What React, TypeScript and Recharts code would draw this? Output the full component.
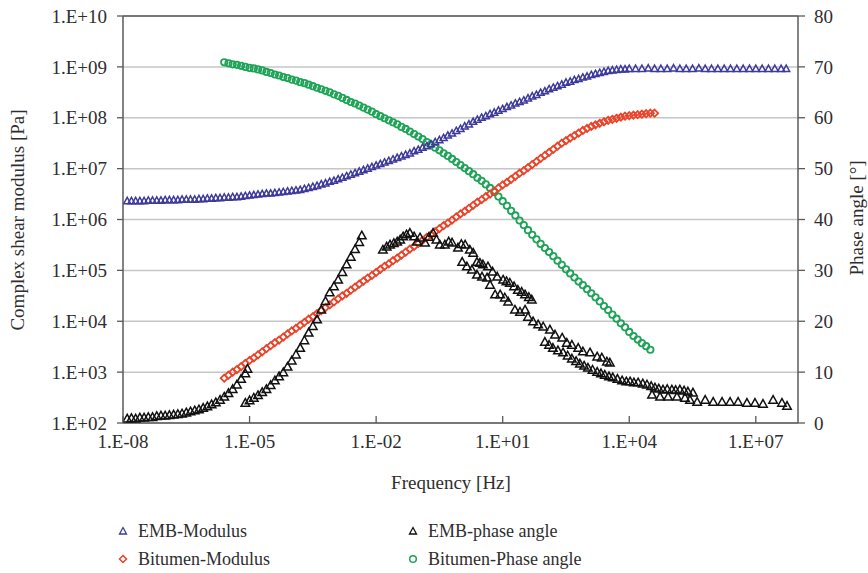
import React from 'react';
import { ScatterChart, Scatter, XAxis, YAxis, CartesianGrid, ReferenceLine } from 'recharts';

const FONT = '"Liberation Serif", "Times New Roman", "DejaVu Serif", serif';
const TEXT = '#2e2e2e';
const AXIS = '#5a5a5a';

// tick positions
const freqTicks = [1e-8, 1e-5, 1e-2, 1e1, 1e4, 1e7];
const modulusTicks = [1e2, 1e3, 1e4, 1e5, 1e6, 1e7, 1e8, 1e9, 1e10];
const phaseTicks = [0, 10, 20, 30, 40, 50, 60, 70, 80];

// each pair: [log10 frequency (Hz), value]
// EMB-Modulus, value = log10 |G*| (Pa)
const embModulus: [number, number][] = [
  [-7.9, 6.36], [-7.8, 6.36], [-7.7, 6.36], [-7.6, 6.36], [-7.5, 6.36], [-7.4, 6.37], [-7.3, 6.37], [-7.2, 6.37], [-7.1, 6.37], [-7.0, 6.38],
  [-6.9, 6.38], [-6.8, 6.38], [-6.7, 6.38], [-6.6, 6.39], [-6.5, 6.39], [-6.4, 6.39], [-6.3, 6.39], [-6.2, 6.4], [-6.1, 6.4], [-6.0, 6.41],
  [-5.9, 6.41], [-5.8, 6.42], [-5.7, 6.42], [-5.6, 6.43], [-5.5, 6.43], [-5.4, 6.44], [-5.3, 6.44], [-5.2, 6.45], [-5.1, 6.46], [-5.0, 6.47],
  [-4.9, 6.48], [-4.8, 6.49], [-4.7, 6.5], [-4.6, 6.51], [-4.5, 6.51], [-4.4, 6.52], [-4.3, 6.53], [-4.2, 6.54], [-4.1, 6.55], [-4.0, 6.56],
  [-3.9, 6.57], [-3.8, 6.58], [-3.7, 6.6], [-3.6, 6.62], [-3.5, 6.64], [-3.4, 6.66], [-3.3, 6.69], [-3.2, 6.71], [-3.1, 6.74], [-3.0, 6.76],
  [-2.9, 6.79], [-2.8, 6.82], [-2.7, 6.85], [-2.6, 6.88], [-2.5, 6.91], [-2.4, 6.94], [-2.3, 6.97], [-2.2, 7.0], [-2.1, 7.03], [-2.0, 7.06],
  [-1.9, 7.09], [-1.8, 7.12], [-1.7, 7.15], [-1.6, 7.18], [-1.5, 7.21], [-1.4, 7.24], [-1.3, 7.27], [-1.2, 7.3], [-1.1, 7.34], [-1.0, 7.37],
  [-0.9, 7.41], [-0.8, 7.44], [-0.7, 7.48], [-0.6, 7.52], [-0.5, 7.56], [-0.4, 7.6], [-0.3, 7.65], [-0.2, 7.69], [-0.1, 7.74], [0.0, 7.78],
  [0.1, 7.83], [0.2, 7.87], [0.3, 7.92], [0.4, 7.96], [0.5, 8.0], [0.6, 8.03], [0.7, 8.07], [0.8, 8.1], [0.9, 8.14], [1.0, 8.17],
  [1.1, 8.21], [1.2, 8.24], [1.3, 8.28], [1.4, 8.31], [1.5, 8.34], [1.6, 8.38], [1.7, 8.42], [1.8, 8.45], [1.9, 8.49], [2.0, 8.52],
  [2.1, 8.56], [2.2, 8.59], [2.3, 8.62], [2.4, 8.65], [2.5, 8.69], [2.6, 8.71], [2.7, 8.74], [2.8, 8.76], [2.9, 8.79], [3.0, 8.81],
  [3.1, 8.84], [3.2, 8.86], [3.3, 8.88], [3.4, 8.9], [3.5, 8.92], [3.6, 8.93], [3.7, 8.94], [3.8, 8.95], [3.9, 8.95], [4.0, 8.96],
  [4.15, 8.96], [4.3, 8.96], [4.45, 8.97], [4.6, 8.96], [4.75, 8.96], [4.9, 8.96], [5.05, 8.97], [5.2, 8.96], [5.35, 8.96], [5.5, 8.96],
  [5.65, 8.97], [5.8, 8.96], [5.95, 8.96], [6.1, 8.96], [6.25, 8.96], [6.4, 8.96], [6.55, 8.96], [6.7, 8.96], [6.85, 8.96], [7.0, 8.96],
  [7.15, 8.96], [7.3, 8.96], [7.45, 8.96], [7.6, 8.96], [7.72, 8.96],
];

// Bitumen-Modulus, value = log10 |G*| (Pa)
const bitumenModulus: [number, number][] = [
  [-5.6, 2.88], [-5.5, 2.94], [-5.4, 3.0], [-5.3, 3.05], [-5.2, 3.11], [-5.1, 3.17], [-5.0, 3.23], [-4.9, 3.28], [-4.8, 3.34], [-4.7, 3.4],
  [-4.6, 3.46], [-4.5, 3.52], [-4.4, 3.58], [-4.3, 3.63], [-4.2, 3.69], [-4.1, 3.75], [-4.0, 3.81], [-3.9, 3.86], [-3.8, 3.92], [-3.7, 3.98],
  [-3.6, 4.04], [-3.5, 4.09], [-3.4, 4.15], [-3.3, 4.21], [-3.2, 4.27], [-3.1, 4.32], [-3.0, 4.38], [-2.9, 4.44], [-2.8, 4.5], [-2.7, 4.55],
  [-2.6, 4.61], [-2.5, 4.67], [-2.4, 4.73], [-2.3, 4.79], [-2.2, 4.85], [-2.1, 4.9], [-2.0, 4.96], [-1.9, 5.02], [-1.8, 5.08], [-1.7, 5.13],
  [-1.6, 5.19], [-1.5, 5.24], [-1.4, 5.3], [-1.3, 5.36], [-1.2, 5.42], [-1.1, 5.47], [-1.0, 5.53], [-0.9, 5.59], [-0.8, 5.65], [-0.7, 5.7],
  [-0.6, 5.76], [-0.5, 5.82], [-0.4, 5.88], [-0.3, 5.93], [-0.2, 5.99], [-0.1, 6.05], [0.0, 6.11], [0.1, 6.16], [0.2, 6.22], [0.3, 6.28],
  [0.4, 6.34], [0.5, 6.39], [0.6, 6.45], [0.7, 6.5], [0.8, 6.56], [0.9, 6.62], [1.0, 6.68], [1.1, 6.73], [1.2, 6.79], [1.3, 6.85],
  [1.4, 6.91], [1.5, 6.96], [1.6, 7.02], [1.7, 7.08], [1.8, 7.14], [1.9, 7.2], [2.0, 7.26], [2.1, 7.32], [2.2, 7.38], [2.3, 7.44],
  [2.4, 7.5], [2.5, 7.55], [2.6, 7.6], [2.7, 7.65], [2.8, 7.7], [2.9, 7.75], [3.0, 7.79], [3.1, 7.83], [3.2, 7.86], [3.3, 7.89],
  [3.4, 7.92], [3.5, 7.95], [3.6, 7.97], [3.7, 7.99], [3.8, 8.01], [3.9, 8.03], [4.0, 8.04], [4.1, 8.05], [4.2, 8.06], [4.3, 8.07],
  [4.4, 8.08], [4.5, 8.09], [4.6, 8.09],
];

// Bitumen-Phase angle (deg)
const bitumenPhase: [number, number][] = [
  [-5.6, 70.9], [-5.5, 70.7], [-5.4, 70.5], [-5.3, 70.4], [-5.2, 70.2], [-5.1, 70.0], [-5.0, 69.8], [-4.9, 69.7], [-4.8, 69.5], [-4.7, 69.3],
  [-4.6, 69.0], [-4.5, 68.8], [-4.4, 68.5], [-4.3, 68.3], [-4.2, 68.0], [-4.1, 67.8], [-4.0, 67.5], [-3.9, 67.3], [-3.8, 67.0], [-3.7, 66.8],
  [-3.6, 66.5], [-3.5, 66.2], [-3.4, 65.9], [-3.3, 65.6], [-3.2, 65.3], [-3.1, 65.0], [-3.0, 64.6], [-2.9, 64.3], [-2.8, 63.9], [-2.7, 63.5],
  [-2.6, 63.1], [-2.5, 62.8], [-2.4, 62.4], [-2.3, 62.0], [-2.2, 61.6], [-2.1, 61.2], [-2.0, 60.7], [-1.9, 60.3], [-1.8, 59.9], [-1.7, 59.5],
  [-1.6, 59.1], [-1.5, 58.7], [-1.4, 58.2], [-1.3, 57.8], [-1.2, 57.3], [-1.1, 56.8], [-1.0, 56.3], [-0.9, 55.8], [-0.8, 55.2], [-0.7, 54.7],
  [-0.6, 54.1], [-0.5, 53.6], [-0.4, 53.0], [-0.3, 52.5], [-0.2, 51.9], [-0.1, 51.3], [0.0, 50.7], [0.1, 50.1], [0.2, 49.5], [0.3, 48.9],
  [0.4, 48.2], [0.5, 47.6], [0.6, 46.9], [0.7, 46.2], [0.8, 45.4], [0.9, 44.5], [1.0, 43.6], [1.1, 42.7], [1.2, 41.7], [1.3, 40.8],
  [1.4, 39.8], [1.5, 38.9], [1.6, 37.9], [1.7, 37.0], [1.8, 36.1], [1.9, 35.2], [2.0, 34.4], [2.1, 33.6], [2.2, 32.8], [2.3, 31.9],
  [2.4, 31.1], [2.5, 30.2], [2.6, 29.4], [2.7, 28.6], [2.8, 27.8], [2.9, 27.1], [3.0, 26.3], [3.1, 25.5], [3.2, 24.7], [3.3, 23.9],
  [3.4, 23.0], [3.5, 22.2], [3.6, 21.3], [3.7, 20.5], [3.8, 19.6], [3.9, 18.8], [4.0, 17.9], [4.1, 17.1], [4.2, 16.4], [4.3, 15.7],
  [4.4, 15.1], [4.5, 14.4],
];

// EMB-phase angle (deg): several overlapping, shifted measurement segments
const embPhase: [number, number][] = [
  // lowest-frequency segment
  [-7.9, 0.8], [-7.8, 0.9], [-7.7, 0.8], [-7.6, 1.0], [-7.5, 1.0], [-7.4, 1.1], [-7.3, 1.1], [-7.2, 1.3], [-7.1, 1.4], [-7.0, 1.4],
  [-6.9, 1.5], [-6.8, 1.6], [-6.7, 1.7], [-6.6, 1.8], [-6.5, 2.0], [-6.4, 2.2], [-6.3, 2.4], [-6.2, 2.6], [-6.1, 2.9], [-6.0, 3.2],
  [-5.9, 3.6], [-5.8, 4.0], [-5.7, 4.5], [-5.6, 5.1], [-5.5, 5.8], [-5.4, 6.6], [-5.3, 7.5], [-5.2, 8.6], [-5.1, 9.7], [-5.05, 10.6],
  // steep rising segment
  [-5.1, 3.9], [-5.0, 4.4], [-4.9, 4.9], [-4.8, 5.4], [-4.7, 6.0], [-4.6, 6.6], [-4.5, 7.4], [-4.4, 8.3], [-4.3, 9.1], [-4.2, 9.9],
  [-4.1, 11.0], [-4.0, 12.2], [-3.9, 13.4], [-3.8, 14.7], [-3.7, 16.2], [-3.6, 17.7], [-3.5, 19.0], [-3.4, 20.3], [-3.3, 22.2], [-3.2, 23.9],
  [-3.1, 25.6], [-3.0, 26.8], [-2.9, 28.1], [-2.8, 29.6], [-2.7, 31.1], [-2.6, 32.6], [-2.5, 34.1], [-2.4, 35.5], [-2.34, 36.8],
  // peak segment
  [-1.84, 34.0], [-1.75, 34.6], [-1.67, 35.0], [-1.58, 35.3], [-1.5, 35.6], [-1.43, 36.0], [-1.36, 36.6], [-1.28, 37.0], [-1.2, 37.3], [-1.1, 36.6],
  [-1.03, 35.6], [-0.96, 36.4], [-0.84, 35.4], [-0.75, 36.5], [-0.65, 37.3], [-0.57, 36.0], [-0.49, 35.0], [-0.37, 35.0], [-0.28, 35.6], [-0.2, 35.4],
  [-0.06, 34.4], [0.02, 35.1], [0.11, 35.0], [0.22, 34.0], [0.3, 33.4], [0.39, 31.6], [0.46, 31.4], [0.53, 31.1], [0.65, 30.7], [0.76, 29.7],
  [0.87, 28.7], [1.01, 28.1], [1.09, 27.8], [1.17, 27.5], [1.27, 26.8], [1.36, 26.1], [1.45, 25.7], [1.53, 25.2], [1.62, 24.7], [1.69, 24.2],
  // middle descending segment
  [0.04, 31.6], [0.15, 30.7], [0.27, 30.1], [0.39, 29.1], [0.51, 28.7], [0.63, 28.5], [0.7, 27.1], [0.82, 25.2], [0.94, 25.2], [1.05, 24.6],
  [1.13, 23.8], [1.29, 22.2], [1.41, 21.8], [1.53, 22.2], [1.6, 20.8], [1.72, 19.9], [1.84, 19.3], [1.96, 18.9], [2.12, 18.3], [2.24, 17.3],
  [2.41, 16.7], [2.52, 15.7], [2.64, 15.3], [2.79, 14.7], [2.9, 14.0], [3.07, 13.8], [3.24, 13.0], [3.35, 12.8], [3.47, 12.0], [3.54, 11.8],
  // high-frequency segment
  [2.0, 15.9], [2.1, 15.3], [2.19, 14.7], [2.31, 14.2], [2.43, 13.8], [2.54, 13.2], [2.64, 12.6], [2.74, 12.1], [2.83, 11.6], [2.93, 11.2],
  [3.02, 10.8], [3.13, 10.4], [3.24, 10.0], [3.33, 9.7], [3.42, 9.4], [3.52, 9.1], [3.61, 8.9], [3.72, 8.6], [3.83, 8.3], [3.93, 8.1],
  [4.02, 8.1], [4.11, 7.9], [4.21, 7.9], [4.32, 7.7], [4.42, 7.5], [4.52, 7.2], [4.61, 6.9], [4.7, 6.7], [4.8, 6.5], [4.9, 6.6],
  [5.01, 6.5], [5.1, 6.4], [5.2, 6.5], [5.3, 6.3], [5.39, 6.1], [5.51, 5.9],
  [4.54, 5.5], [4.73, 5.1], [4.92, 5.1], [5.13, 5.1], [5.32, 4.9], [5.44, 4.5], [5.61, 4.1], [5.8, 4.5], [5.99, 4.1], [6.2, 4.1],
  [6.39, 4.1], [6.58, 4.1], [6.79, 3.9], [6.98, 3.9], [7.17, 3.7], [7.41, 4.5], [7.62, 3.9], [7.74, 3.3],
];

const toPoints = (pairs: [number, number][], logY: boolean) =>
  pairs.map(([e, v]) => ({ x: Math.pow(10, e), y: logY ? Math.pow(10, v) : v }));

const embModPts = toPoints(embModulus, true);
const bitModPts = toPoints(bitumenModulus, true);
const bitPhPts = toPoints(bitumenPhase, false);
const embPhPts = toPoints(embPhase, false);

const expLabel = (v: number) => {
  const e = Math.round(Math.log10(v));
  return `1.E${e < 0 ? '-' : '+'}${String(Math.abs(e)).padStart(2, '0')}`;
};

const triangle = (color: string, w: number, sw: number) => (p: any) => {
  const { cx, cy } = p;
  if (cx == null || cy == null) return <g />;
  const h = w * 0.9;
  return (
    <path
      d={`M${cx},${cy - h * 0.6}L${cx + w / 2},${cy + h * 0.4}L${cx - w / 2},${cy + h * 0.4}Z`}
      fill="none"
      stroke={color}
      strokeWidth={sw}
    />
  );
};

const circle = (color: string, r: number, sw: number) => (p: any) => {
  const { cx, cy } = p;
  if (cx == null || cy == null) return <g />;
  return <circle cx={cx} cy={cy} r={r} fill="none" stroke={color} strokeWidth={sw} />;
};

const diamond = (color: string, r: number, sw: number) => (p: any) => {
  const { cx, cy } = p;
  if (cx == null || cy == null) return <g />;
  return (
    <path d={`M${cx},${cy - r}L${cx + r},${cy}L${cx},${cy + r}L${cx - r},${cy}Z`} fill="none" stroke={color} strokeWidth={sw} />
  );
};

const FreqTick = (props: any) => {
  const { x, y, payload } = props;
  return (
    <g>
      <line x1={x} y1={y} x2={x} y2={y - 7} stroke={AXIS} strokeWidth={1.3} />
      <text x={x} y={y + 25} textAnchor="middle" fill={TEXT} fontSize={19} fontFamily={FONT}>
        {expLabel(payload.value)}
      </text>
    </g>
  );
};

const BLUE = '#3d3a9a';
const RED = '#e8442a';
const GREEN = '#1ea357';
const BLACK = '#111111';

const legendItems = [
  { label: 'EMB-Modulus', color: BLUE, kind: 'tri', left: 116, top: 519 },
  { label: 'Bitumen-Modulus', color: RED, kind: 'dia', left: 116, top: 547 },
  { label: 'EMB-phase angle', color: BLACK, kind: 'tri', left: 406, top: 519 },
  { label: 'Bitumen-Phase angle', color: GREEN, kind: 'cir', left: 406, top: 547 },
];

const LegendMark = ({ kind, color }: { kind: string; color: string }) => (
  <svg width={14} height={14} style={{ display: 'block' }}>
    {kind === 'tri' && <path d="M7,3.5L10.5,10L3.5,10Z" fill="none" stroke={color} strokeWidth={1.3} />}
    {kind === 'dia' && <path d="M7,3.5L10.5,7L7,10.5L3.5,7Z" fill="none" stroke={color} strokeWidth={1.5} />}
    {kind === 'cir' && <circle cx={7} cy={7} r={3.3} fill="none" stroke={color} strokeWidth={1.5} />}
  </svg>
);

export default function App() {
  return (
    <div style={{ position: 'absolute', left: 0, top: 0, width: 868, height: 573, background: '#fff', fontFamily: FONT }}>
      <ScatterChart width={868} height={573} margin={{ top: 16, right: 0, bottom: 120, left: 0 }}>
        <CartesianGrid yAxisId="left" vertical={false} stroke="#c6c6c6" strokeWidth={1.5} />
        <XAxis
          type="number"
          dataKey="x"
          scale="log"
          domain={[1e-8, 1e8]}
          ticks={freqTicks}
          allowDataOverflow
          height={30}
          axisLine={{ stroke: AXIS, strokeWidth: 1.5 }}
          tickLine={false}
          tickSize={0}
          tickMargin={0}
          tick={<FreqTick />}
          interval={0}
        />
        <YAxis
          yAxisId="left"
          type="number"
          dataKey="y"
          scale="log"
          domain={[1e2, 1e10]}
          ticks={modulusTicks}
          allowDataOverflow
          width={123}
          tickFormatter={expLabel}
          axisLine={{ stroke: AXIS, strokeWidth: 1.5 }}
          tickLine={{ stroke: AXIS, strokeWidth: 1.3 }}
          tickSize={6}
          tickMargin={10}
          tick={{ fontSize: 19, fill: TEXT, fontFamily: FONT }}
          interval={0}
        />
        <YAxis
          yAxisId="right"
          orientation="right"
          type="number"
          dataKey="y"
          domain={[0, 80]}
          ticks={phaseTicks}
          width={70}
          axisLine={{ stroke: AXIS, strokeWidth: 1.5 }}
          tickLine={{ stroke: AXIS, strokeWidth: 1.3 }}
          tickSize={7}
          tickMargin={9}
          tick={{ fontSize: 19, fill: TEXT, fontFamily: FONT, textAnchor: 'start' }}
          interval={0}
        />
        <ReferenceLine yAxisId="left" y={1e10} stroke={AXIS} strokeWidth={1.5} />
        <Scatter yAxisId="right" data={bitPhPts} shape={circle(GREEN, 3.2, 1.8)} isAnimationActive={false} />
        <Scatter yAxisId="left" data={bitModPts} shape={diamond(RED, 3.6, 1.8)} isAnimationActive={false} />
        <Scatter yAxisId="left" data={embModPts} shape={triangle(BLUE, 7, 1.5)} isAnimationActive={false} />
        <Scatter yAxisId="right" data={embPhPts} shape={triangle(BLACK, 8.5, 1.5)} isAnimationActive={false} />
      </ScatterChart>

      <div
        style={{
          position: 'absolute', left: 18, top: 220, transform: 'translate(-50%, -50%) rotate(-90deg)',
          whiteSpace: 'nowrap', fontSize: 19, color: TEXT,
        }}
      >
        Complex shear modulus [Pa]
      </div>
      <div
        style={{
          position: 'absolute', left: 857, top: 218, transform: 'translate(-50%, -50%) rotate(-90deg)',
          whiteSpace: 'nowrap', fontSize: 19, color: TEXT,
        }}
      >
        Phase angle [°]
      </div>
      <div
        style={{
          position: 'absolute', left: 451, top: 483, transform: 'translate(-50%, -50%)',
          whiteSpace: 'nowrap', fontSize: 19, color: TEXT,
        }}
      >
        Frequency [Hz]
      </div>

      {legendItems.map((it) => (
        <div
          key={it.label}
          style={{ position: 'absolute', left: it.left, top: it.top, display: 'flex', alignItems: 'center', fontSize: 18, color: TEXT, lineHeight: '24px' }}
        >
          <LegendMark kind={it.kind} color={it.color} />
          <span style={{ marginLeft: 8 }}>{it.label}</span>
        </div>
      ))}
    </div>
  );
}
